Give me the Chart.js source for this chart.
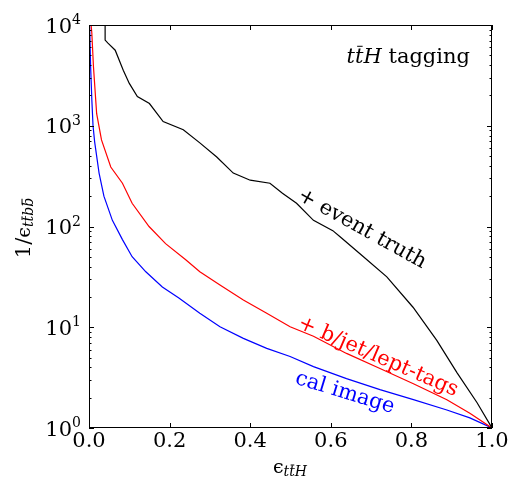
<!DOCTYPE html>
<html>
<head>
<meta charset="utf-8">
<script src="https://cdn.jsdelivr.net/npm/chart.js@4"></script>
<style>
  html, body { margin: 0; padding: 0; background: #fff; }
  #wrap { width: 510px; height: 486px; }
</style>
</head>
<body>
<div id="wrap"><canvas id="myChart"></canvas></div>
<script>
// data: signal efficiency and 1/background efficiency
const truthEff = [0.040, 0.040, 0.047, 0.065, 0.085, 0.100, 0.120, 0.150, 0.184, 0.234, 0.275, 0.317, 0.358, 0.400, 0.449, 0.480, 0.515, 0.557, 0.605, 0.623, 0.681, 0.739, 0.804, 0.863, 0.913, 0.963, 1.0];
const truthRej = [11220, 7080, 6600, 5620, 3550, 2630, 1950, 1660, 1100, 912, 676, 490, 339, 288, 269, 214, 170, 115, 91, 79, 50, 31.6, 15.8, 7.4, 3.55, 1.78, 1];

const tagsEff = [0.003, 0.007, 0.011, 0.019, 0.031, 0.054, 0.083, 0.107, 0.149, 0.190, 0.240, 0.275, 0.325, 0.383, 0.441, 0.499, 0.557, 0.639, 0.722, 0.805, 0.888, 0.945, 1.0];
const tagsRej = [12590, 8318, 3890, 1318, 724, 389, 269, 170, 100, 67.6, 46.8, 35.5, 26.3, 18.6, 13.8, 10.1, 8.13, 5.50, 3.89, 2.75, 1.91, 1.40, 1];

const calEff = [0.001, 0.004, 0.007, 0.010, 0.014, 0.025, 0.037, 0.058, 0.083, 0.107, 0.141, 0.182, 0.223, 0.275, 0.325, 0.383, 0.441, 0.499, 0.557, 0.639, 0.722, 0.805, 0.888, 0.945, 1.0];
const calRej = [12590, 3890, 1820, 1000, 692, 339, 200, 115, 74.1, 50.1, 35.5, 25.1, 19.5, 13.8, 10.1, 7.76, 6.17, 5.13, 4.07, 3.09, 2.40, 1.91, 1.51, 1.26, 1];

const xTicks = [0, 0.2, 0.4, 0.6, 0.8, 1.0];
const yTicks = [1, 10, 100, 1000, 10000];

const pts = (xs, ys) => xs.map((x, i) => ({x: x, y: ys[i]}));

const SERIF = '"DejaVu Serif", serif';

// draws a run of [text, italic, size, dy, bar] pieces starting at x
function drawPieces(ctx, pieces, x, y) {
  pieces.forEach(p => {
    ctx.font = (p[1] ? 'italic ' : '') + p[2] + 'px ' + SERIF;
    const w = ctx.measureText(p[0]).width;
    ctx.fillText(p[0], x, y + p[3]);
    if (p[4]) {
      ctx.fillRect(x + w * 0.25, y + p[3] - p[2] * 0.82, w * 0.65, 1);
    }
    x += w;
  });
  return x;
}
function piecesWidth(ctx, pieces) {
  let w = 0;
  pieces.forEach(p => {
    ctx.font = (p[1] ? 'italic ' : '') + p[2] + 'px ' + SERIF;
    w += ctx.measureText(p[0]).width;
  });
  return w;
}

const frame = {
  id: 'frame',
  afterDraw(chart) {
    const {ctx, chartArea: {left, right, top, bottom}, scales: {x, y}} = chart;
    ctx.save();
    ctx.strokeStyle = '#000';
    ctx.lineWidth = 1;
    ctx.strokeRect(left + 0.5, top + 0.5, right - left - 1, bottom - top - 1);

    // inward ticks on all four sides
    ctx.beginPath();
    xTicks.forEach(v => {
      const px = Math.round(x.getPixelForValue(v)) + 0.5;
      ctx.moveTo(px, bottom); ctx.lineTo(px, bottom - 5);
      ctx.moveTo(px, top); ctx.lineTo(px, top + 5);
    });
    for (let d = 1; d < 10000; d *= 10) {
      for (let k = 1; k <= 10; k++) {
        const py = Math.round(y.getPixelForValue(d * k)) + 0.5;
        const len = (k === 1 || k === 10) ? 5 : 2.5;
        ctx.moveTo(left, py); ctx.lineTo(left + len, py);
        ctx.moveTo(right, py); ctx.lineTo(right - len, py);
      }
    }
    ctx.stroke();

    // y tick labels 10^n
    ctx.fillStyle = '#000';
    ctx.textBaseline = 'alphabetic';
    yTicks.forEach((v, i) => {
      const py = y.getPixelForValue(v);
      ctx.font = '21px ' + SERIF;
      ctx.textAlign = 'right';
      ctx.fillText('10', 72, py + 7.5);
      ctx.font = '14px ' + SERIF;
      ctx.textAlign = 'left';
      ctx.fillText(String(i), 72, py - 1);
    });

    ctx.textAlign = 'left';
    // title in the corner
    const title = [['t', true, 21, 0], ['t', true, 21, 0, true], ['H', true, 21, 0], [' tagging', false, 21, 0]];
    drawPieces(ctx, title, 470 - piecesWidth(ctx, title), 63);

    // x axis label
    const xl = [['\u03f5', false, 19, 0], ['t', true, 14, 3], ['t', true, 14, 3, true], ['H', true, 14, 3]];
    drawPieces(ctx, xl, 290 - piecesWidth(ctx, xl) / 2, 473);

    // y axis label
    const yl = [['1/', false, 21, 0], ['\u03f5', false, 19, 0], ['t', true, 14, 3], ['t', true, 14, 3, true], ['b', true, 14, 3], ['b', true, 14, 3, true]];
    ctx.save();
    ctx.translate(30, 228);
    ctx.rotate(-Math.PI / 2);
    drawPieces(ctx, yl, -piecesWidth(ctx, yl) / 2, 0);
    ctx.restore();

    // curve labels
    const notes = [
      ['+ event truth', '#000', 362, 229, 29],
      ['+ b/jet/lept-tags', '#ff0000', 378, 357, 23.5],
      ['cal image', '#0000ff', 345, 393, 17]
    ];
    ctx.font = '21px ' + SERIF;
    ctx.textAlign = 'center';
    ctx.textBaseline = 'middle';
    notes.forEach(n => {
      ctx.save();
      ctx.fillStyle = n[1];
      ctx.translate(n[2], n[3]);
      ctx.rotate(n[4] * Math.PI / 180);
      ctx.fillText(n[0], 0, 0);
      ctx.restore();
    });
    ctx.restore();
  }
};

const data = {
  datasets: [
    {label: '+ event truth', data: pts(truthEff, truthRej), borderColor: '#000000'},
    {label: '+ b/jet/lept-tags', data: pts(tagsEff, tagsRej), borderColor: '#ff0000'},
    {label: 'cal image', data: pts(calEff, calRej), borderColor: '#0000ff'}
  ]
};

const config = {
  type: 'line',
  data,
  options: {
    responsive: true,
    maintainAspectRatio: false,
    animation: false,
    layout: {padding: {top: 25, right: 18, left: 0, bottom: 0}},
    elements: {
      line: {borderWidth: 1.2, tension: 0},
      point: {radius: 0}
    },
    plugins: {
      legend: {display: false},
      tooltip: {enabled: false}
    },
    scales: {
      x: {
        type: 'linear',
        min: 0,
        max: 1,
        afterFit(s) { s.height = 58; },
        afterBuildTicks(s) { s.ticks = xTicks.map(v => ({value: v})); },
        grid: {display: false, drawTicks: false},
        border: {display: false},
        ticks: {
          padding: 1,
          color: '#000',
          maxRotation: 0,
          autoSkip: false,
          font: {family: 'DejaVu Serif', size: 21},
          callback: v => v.toFixed(1)
        }
      },
      y: {
        type: 'logarithmic',
        min: 1,
        max: 10000,
        afterFit(s) { s.width = 89; },
        grid: {display: false, drawTicks: false},
        border: {display: false},
        ticks: {display: false}
      }
    }
  },
  plugins: [frame]
};

const myChart = new Chart(document.getElementById('myChart'), config);
</script>
</body>
</html>
